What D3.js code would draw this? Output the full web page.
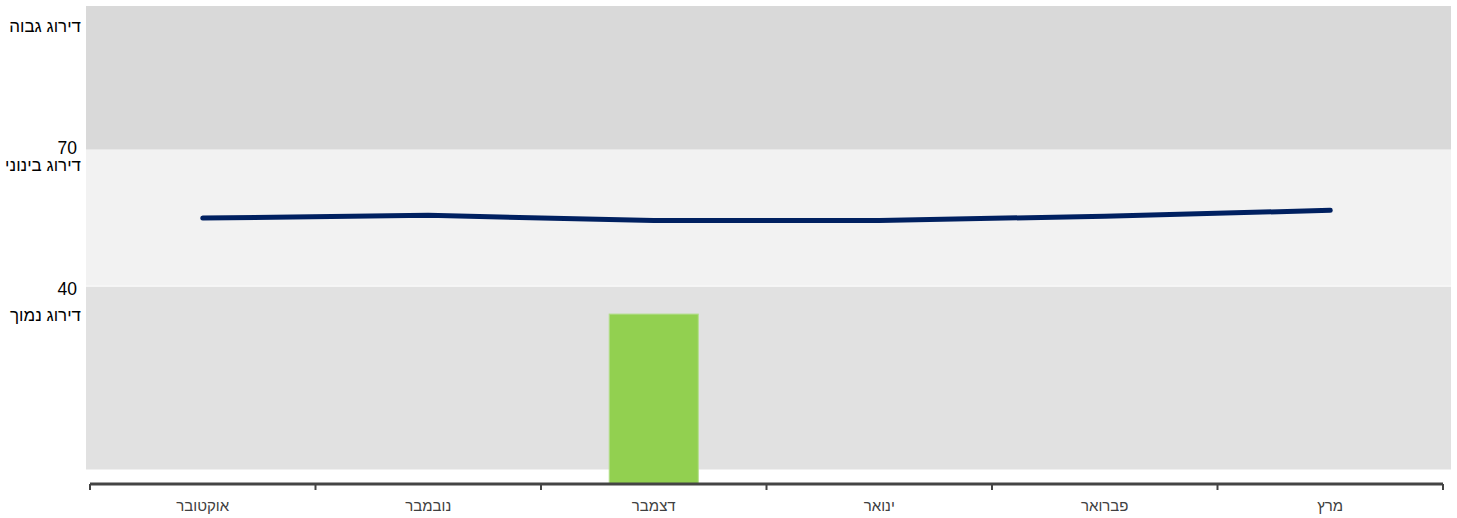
<!DOCTYPE html>
<html>
<head>
<meta charset="utf-8">
<script src="https://cdn.jsdelivr.net/npm/d3@7"></script>
<style>
  html, body { margin: 0; padding: 0; background: #fff; }
  svg { display: block; font-family: "Liberation Sans", Arial, sans-serif; }
</style>
</head>
<body>
<svg id="chart"></svg>
<script>
// months, left to right as in the picture
var months = ["אוקטובר", "נובמבר", "דצמבר", "ינואר", "פברואר", "מרץ"];
var lineValues = [55.0, 55.6, 54.5, 54.5, 55.4, 56.7];
var barValues = [null, null, 34, null, null, null];

var bandNames = ["דירוג נמוך", "דירוג בינוני", "דירוג גבוה"];
var bandEdges = [0, 40, 70, 101.4];
var yTicks = [40, 70];

var width = 1457, height = 518;

var svg = d3.select("#chart")
  .attr("width", width)
  .attr("height", height);

var x = d3.scaleBand()
  .domain(months)
  .range([90, 1443]);

var y = d3.scaleLinear()
  .domain([0, 101.4])
  .range([469.5, 6]);

var bandColors = ["#e1e1e1", "#f2f2f2", "#d9d9d9"];
var axisY = 484;

// rating bands
svg.append("g")
  .attr("class", "bands")
  .selectAll("rect")
  .data(bandNames)
  .join("rect")
    .attr("x", 86)
    .attr("width", 1451 - 86)
    .attr("y", function (d, i) { return y(bandEdges[i + 1]); })
    .attr("height", function (d, i) {
      var h = y(bandEdges[i]) - y(bandEdges[i + 1]);
      return i === 1 ? h - 1 : h;
    })
    .style("fill", function (d, i) { return bandColors[i]; });

// band names on the left
var nameOffsets = [34, 21, 26];
svg.append("g")
  .attr("class", "band-names")
  .selectAll("text")
  .data(bandNames)
  .join("text")
    .attr("x", 81)
    .attr("y", function (d, i) { return y(bandEdges[i + 1]) + nameOffsets[i]; })
    .attr("text-anchor", "end")
    .style("font-size", "17px")
    .style("fill", "#000")
    .text(function (d) { return d; });

// tick numbers
var tickOffsets = { 40: 8, 70: 4 };
svg.append("g")
  .attr("class", "y-ticks")
  .selectAll("text")
  .data(yTicks)
  .join("text")
    .attr("x", 77)
    .attr("y", function (d) { return y(d) + tickOffsets[d]; })
    .attr("text-anchor", "end")
    .style("font-size", "17.5px")
    .style("fill", "#000")
    .text(function (d) { return d; });

// bars
var barW = x.bandwidth() * 0.395;
svg.append("g")
  .attr("class", "bars")
  .selectAll("rect")
  .data(months.filter(function (m, i) { return barValues[i] != null; }))
  .join("rect")
    .attr("x", function (m) { return x(m) + (x.bandwidth() - barW) / 2; })
    .attr("width", barW)
    .attr("y", function (m) { return y(barValues[months.indexOf(m)]); })
    .attr("height", function (m) { return axisY - y(barValues[months.indexOf(m)]); })
    .style("fill", "#92d050")
    .style("stroke", "#b3de8a")
    .style("stroke-width", 1);

// line
var line = d3.line()
  .x(function (d, i) { return x(months[i]) + x.bandwidth() / 2; })
  .y(function (d) { return y(d); });

svg.append("path")
  .datum(lineValues)
  .attr("d", line)
  .style("fill", "none")
  .style("stroke", "#002060")
  .style("stroke-width", 5)
  .style("stroke-linecap", "round")
  .style("stroke-linejoin", "round");

// x axis
var axis = svg.append("g").attr("class", "x-axis");
axis.append("line")
  .attr("x1", x.range()[0])
  .attr("x2", x.range()[1])
  .attr("y1", axisY)
  .attr("y2", axisY)
  .style("stroke", "#444")
  .style("stroke-width", 3);

axis.selectAll("line.tick")
  .data(months.map(function (m) { return x(m); }).concat([x.range()[1]]))
  .join("line")
    .attr("class", "tick")
    .attr("x1", function (d) { return d; })
    .attr("x2", function (d) { return d; })
    .attr("y1", axisY)
    .attr("y2", axisY + 6)
    .style("stroke", "#444")
    .style("stroke-width", 2);

axis.selectAll("text")
  .data(months)
  .join("text")
    .attr("x", function (m) { return x(m) + x.bandwidth() / 2; })
    .attr("y", 511)
    .attr("text-anchor", "middle")
    .style("font-size", "15px")
    .style("fill", "#404040")
    .text(function (d) { return d; });
</script>
</body>
</html>
